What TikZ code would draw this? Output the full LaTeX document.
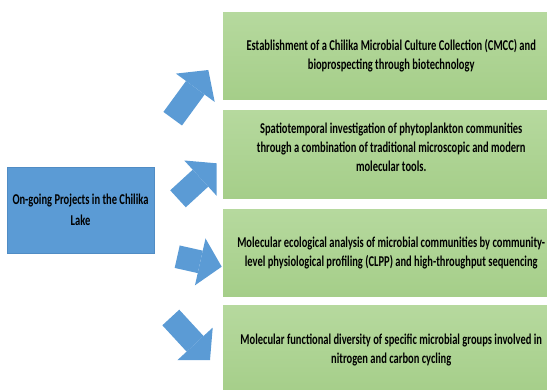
\documentclass[tikz,border=0pt]{standalone}
\usepackage{fontspec}
\setmainfont{Carlito}[FakeStretch=0.70]
\usepackage{tikz}
\usetikzlibrary{arrows.meta,positioning}
\definecolor{hubblue}{RGB}{91,155,213}
\definecolor{hubedge}{RGB}{80,140,196}
\definecolor{projgreen}{RGB}{165,206,137}
\definecolor{projlight}{RGB}{182,217,158}

\tikzset{
  hubbox/.style={fill=hubblue, draw=hubedge, line width=0.5pt, minimum width=147pt, minimum height=86pt,
    align=center, inner sep=0pt, font=\bfseries\fontsize{15}{20.5}\selectfont},
  projbox/.style={top color=projlight, bottom color=projgreen, anchor=north west, minimum width=336pt,
    minimum height=87pt, align=center, inner sep=0pt, font=\bfseries\fontsize{15}{19}\selectfont},
  blockarrow/.style={hubblue, line width=23pt, -{Triangle[length=22pt,width=48pt,line width=0pt]}}
}

\begin{document}
\begin{tikzpicture}[x=1pt, y=-1pt]
    \useasboundingbox (0,0) rectangle (547,389);
    \clip (0,0) rectangle (547,389);

    % Hub box
    \node[hubbox] (hub) at (80.5,210) {On-going Projects in the Chilika\\Lake};

    % Project boxes
    \node[projbox] (p1) at (223,12) {Establishment of a Chilika Microbial Culture Collection (CMCC) and\\bioprospecting through biotechnology};
    \node[projbox, minimum height=88pt, text depth=14pt] (p2) at (223,110) {Spatiotemporal investigation of phytoplankton communities\\through a combination of traditional microscopic and modern\\molecular tools.};
    \node[projbox] (p3) at (223,209) {Molecular ecological analysis of microbial communities by community-\\level physiological profiling (CLPP) and high-throughput sequencing};
    \node[projbox, minimum height=90pt] (p4) at (223,305) {Molecular functional diversity of specific microbial groups involved in\\nitrogen and carbon cycling};

    % Arrow ends
    \coordinate (a1s) at (172.7,118.7);
    \coordinate (a1e) at (208.3,70);
    \coordinate (a2s) at (178,198.8);
    \coordinate (a2e) at (216.7,163.3);
    \coordinate (a3s) at (177.2,256.7);
    \coordinate (a3e) at (221.7,266.7);
    \coordinate (a4s) at (170.8,317.5);
    \coordinate (a4e) at (210,360);

    % Block arrows
    \draw[blockarrow] (a1s) -- (a1e);
    \draw[blockarrow] (a2s) -- (a2e);
    \draw[blockarrow] (a3s) -- (a3e);
    \draw[blockarrow] (a4s) -- (a4e);
\end{tikzpicture}
\end{document}
